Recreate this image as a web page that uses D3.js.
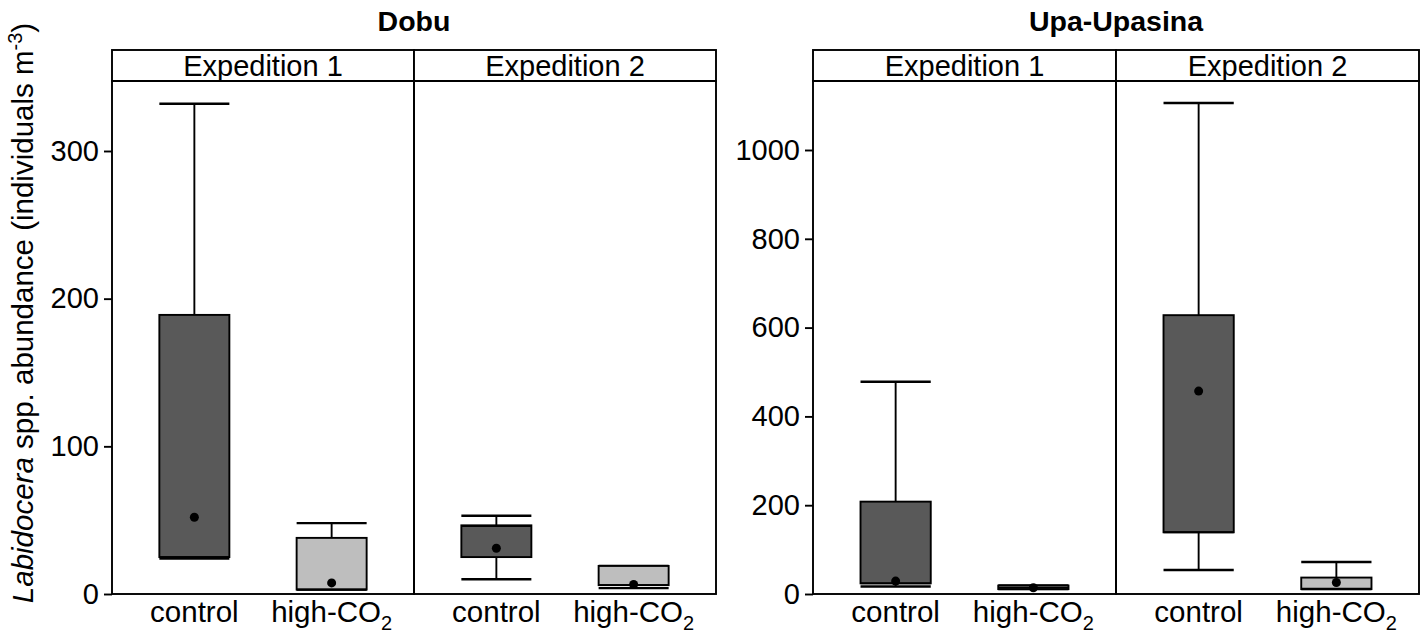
<!DOCTYPE html>
<html>
<head>
<meta charset="utf-8">
<script src="https://cdn.jsdelivr.net/npm/d3@7"></script>
<style>
  html, body { margin: 0; padding: 0; background: #fff; }
  svg { display: block; font-family: "Liberation Sans", Arial, sans-serif; }
</style>
</head>
<body>
<svg id="chart" width="1424" height="634"></svg>
<script>
// ---------- data ----------
const sites = ["Dobu", "Upa-Upasina"];
const expeditions = ["Expedition 1", "Expedition 2"];
const treatments = ["control", "high-CO2"];
const dobuTicks = [0, 100, 200, 300];
const upaTicks = [0, 200, 400, 600, 800, 1000];
const siteYMax = [347.4, 1155.4];

// one entry per box: site, expedition, treatment
const boxSite = ["Dobu", "Dobu", "Dobu", "Dobu", "Upa-Upasina", "Upa-Upasina", "Upa-Upasina", "Upa-Upasina"];
const boxExpedition = ["Expedition 1", "Expedition 1", "Expedition 2", "Expedition 2", "Expedition 1", "Expedition 1", "Expedition 2", "Expedition 2"];
const boxTreatment = ["control", "high-CO2", "control", "high-CO2", "control", "high-CO2", "control", "high-CO2"];
const whiskerLow = [24, 3, 10, 4, 17, 11, 54, 11];
const q1 = [25, 3, 25, 6, 24, 11, 139, 11];
const median = [25, 3, 46, 6, 24, 14, 139, 12];
const q3 = [189, 38, 46.5, 19, 208, 19, 628, 37];
const whiskerHigh = [332, 48, 53, 19, 478, 19, 1106, 72];
const means = [52, 7.5, 31, 6.5, 29, 14, 457, 26];

// ---------- layout ----------
const svg = d3.select("#chart");
const plotTop = 81, plotBottom = 594, stripTop = 50;
const siteX = { "Dobu": [112, 716], "Upa-Upasina": [813, 1419] };
const fillColor = { "control": "#595959", "high-CO2": "#bebebe" };
const lw = 1.9;

sites.forEach((site, si) => {
  const [x0, x1] = siteX[site];
  const g = svg.append("g");
  const y = d3.scaleLinear().domain([0, siteYMax[si]]).range([plotBottom, plotTop]);
  const fx = d3.scaleBand().domain(expeditions).range([x0, x1]).padding(0);

  // title
  g.append("text")
    .attr("x", (x0 + x1) / 2).attr("y", 31)
    .attr("text-anchor", "middle")
    .attr("font-size", 28.5).attr("font-weight", "bold")
    .text(site);

  // y axis
  const ticks = si === 0 ? dobuTicks : upaTicks;
  const yAxis = d3.axisLeft(y).tickValues(ticks).tickSize(8).tickPadding(5).tickFormat(d3.format("d"));
  const ag = g.append("g").attr("transform", `translate(${x0},0)`).call(yAxis);
  ag.select(".domain").remove();
  ag.selectAll(".tick line").attr("stroke", "#000").attr("stroke-width", lw);
  ag.selectAll(".tick text").attr("font-size", 29).attr("fill", "#000")
    .attr("font-family", "Liberation Sans, Arial, sans-serif");

  expeditions.forEach(exp => {
    const fx0 = fx(exp), fw = fx.bandwidth();
    const x = d3.scalePoint().domain(treatments).range([fx0, fx0 + fw]).padding(0.6);
    const bw = x.step() * 0.51;

    // strip
    g.append("rect").attr("x", fx0).attr("y", stripTop).attr("width", fw).attr("height", plotTop - stripTop)
      .attr("fill", "#fff").attr("stroke", "#000").attr("stroke-width", lw);
    g.append("text").attr("x", fx0 + fw / 2).attr("y", plotTop - 5)
      .attr("text-anchor", "middle").attr("font-size", 29).text(exp);

    // panel border
    g.append("rect").attr("x", fx0).attr("y", plotTop).attr("width", fw).attr("height", plotBottom - plotTop)
      .attr("fill", "none").attr("stroke", "#000").attr("stroke-width", lw);

    // boxes
    boxSite.forEach((s, i) => {
      if (s !== site || boxExpedition[i] !== exp) return;
      const t = boxTreatment[i];
      const cx = x(t);
      const bg = g.append("g");
      // whiskers
      bg.append("line").attr("x1", cx).attr("x2", cx).attr("y1", y(q3[i])).attr("y2", y(whiskerHigh[i]))
        .attr("stroke", "#000").attr("stroke-width", lw);
      bg.append("line").attr("x1", cx).attr("x2", cx).attr("y1", y(q1[i])).attr("y2", y(whiskerLow[i]))
        .attr("stroke", "#000").attr("stroke-width", lw);
      [whiskerHigh[i], whiskerLow[i]].forEach(v => {
        bg.append("line").attr("x1", cx - bw / 2).attr("x2", cx + bw / 2).attr("y1", y(v)).attr("y2", y(v))
          .attr("stroke", "#000").attr("stroke-width", lw + 0.5);
      });
      // box
      bg.append("rect").attr("x", cx - bw / 2).attr("width", bw)
        .attr("y", y(q3[i])).attr("height", Math.max(0.5, y(q1[i]) - y(q3[i])))
        .attr("fill", fillColor[t]).attr("stroke", "#000").attr("stroke-width", lw);
      // median
      bg.append("line").attr("x1", cx - bw / 2).attr("x2", cx + bw / 2).attr("y1", y(median[i])).attr("y2", y(median[i]))
        .attr("stroke", "#000").attr("stroke-width", lw);
      // mean
      bg.append("circle").attr("cx", cx).attr("cy", y(means[i])).attr("r", 4.5).attr("fill", "#000");

      // x label
      const lab = g.append("text").attr("x", cx).attr("y", 622).attr("text-anchor", "middle").attr("font-size", 29.5);
      if (t === "high-CO2") {
        lab.append("tspan").text("high-CO");
        lab.append("tspan").attr("font-size", 20).attr("dy", 8).text("2");
      } else {
        lab.text(t);
      }
    });
  });
});

// y-axis label
const yl = svg.append("text")
  .attr("transform", "translate(33,313) rotate(-90)")
  .attr("text-anchor", "middle").attr("font-size", 29.5);
yl.append("tspan").attr("font-style", "italic").text("Labidocera");
yl.append("tspan").text(" spp. abundance (individuals m");
yl.append("tspan").attr("font-size", 20).attr("dy", -11).text("-3");
yl.append("tspan").attr("dy", 11).text(")");
</script>
</body>
</html>
